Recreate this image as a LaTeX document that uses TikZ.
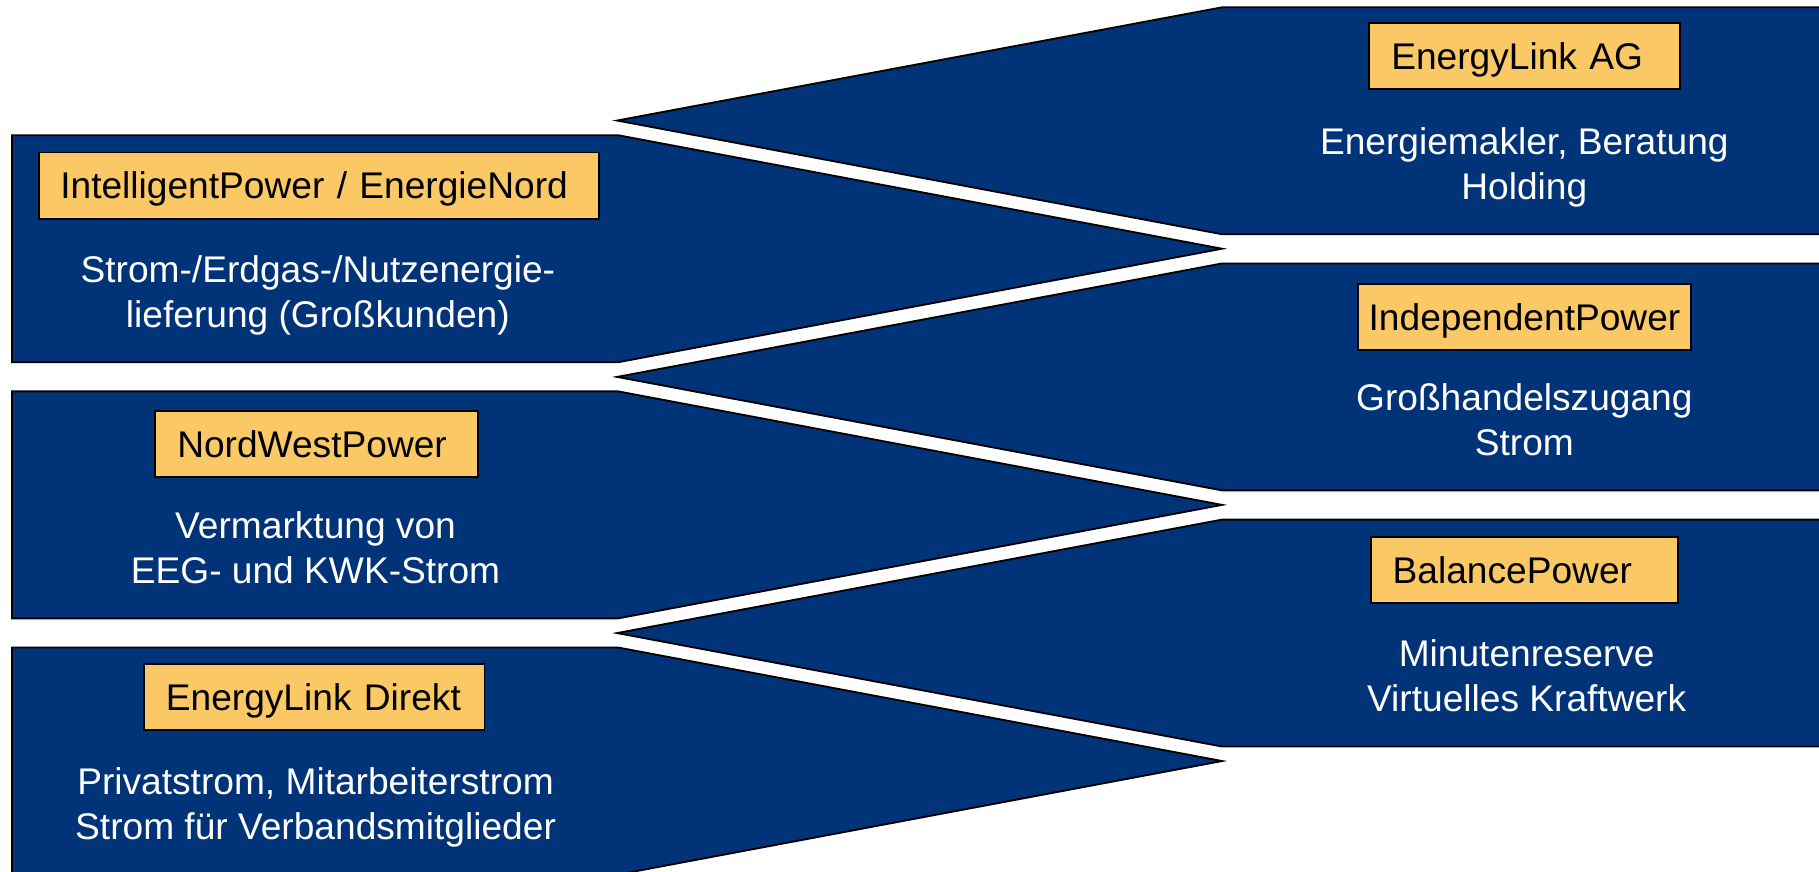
\documentclass[tikz,border=0pt]{standalone}
\usepackage{fontspec}
\setmainfont{Liberation Sans}
\definecolor{navy}{RGB}{0,51,119}
\definecolor{tagfill}{RGB}{250,200,100}
\tikzset{
  arm/.style={draw=black, fill=navy, line width=0.8pt, line join=miter},
  tag/.style={draw=black, fill=tagfill, line width=0.8pt, anchor=north west,
    font=\fontsize{16}{19}\selectfont, align=left, minimum height=28.5pt,
    text height=15pt, text depth=3.5pt, inner ysep=0pt},
  body/.style={text=white, font=\fontsize{16}{19.25}\selectfont, align=center, anchor=base, inner sep=0pt}
}
\begin{document}
\begin{tikzpicture}[x=0.5pt, y=-0.5pt]
\useasboundingbox (0,0) rectangle (1568,751);
% right arms
\draw[arm] (1600,6.3) -- (1053.4,6.3) -- (532,103.9) -- (1053.4,201.9) -- (1600,201.9);
\draw[arm] (1600,227.1) -- (1053.4,227.1) -- (532,324.9) -- (1053.4,422.7) -- (1600,422.7);
\draw[arm] (1600,447.9) -- (1053.4,447.9) -- (532,545.7) -- (1053.4,643.5) -- (1600,643.5);
% left arms
\draw[arm] (10.4,116.6) -- (533,116.6) -- (1053.4,214.4) -- (533,312.2) -- (10.4,312.2) -- cycle;
\draw[arm] (10.4,337.4) -- (533,337.4) -- (1053.4,435.2) -- (533,533.0) -- (10.4,533.0) -- cycle;
\draw[arm] (10.4,558.2) -- (533,558.2) -- (1053.4,656.0) -- (533,753.8) -- (10.4,753.8) -- cycle;
% labels
\node[tag, text width=223pt, inner xsep=9.25pt] (t1) at (32.7,130.7) {IntelligentPower / EnergieNord};
\node[tag, text width=120pt, inner xsep=9.5pt] (t2) at (133,353.4) {NordWestPower};
\node[tag, text width=127.8pt, inner xsep=9.5pt] (t3) at (123.2,571.8) {EnergyLink Direkt};
\node[tag, text width=114.7pt, inner xsep=9.75pt] (t4) at (1179,18.7) {EnergyLink AG};
\node[tag, text width=134.5pt, inner xsep=4.5pt] (t5) at (1170,243.7) {IndependentPower};
\node[tag, text width=113.3pt, inner xsep=9.5pt] (t6) at (1180.7,462) {BalancePower};
% body texts (anchor base = last line baseline)
\node[body] (b1) at (274,282.1) {Strom-/Erdgas-/Nutzenergie-\\lieferung (Großkunden)};
\node[body] (b2) at (272,502.9) {Vermarktung von\\EEG- und KWK-Strom};
\node[body] (b3) at (272,723.7) {Privatstrom, Mitarbeiterstrom\\Strom für Verbandsmitglieder};
\node[body] (b4) at (1314,171.8) {Energiemakler, Beratung\\Holding};
\node[body] (b5) at (1314,392.6) {Großhandelszugang\\Strom};
\node[body] (b6) at (1316,613.4) {Minutenreserve\\Virtuelles Kraftwerk};
\end{tikzpicture}
\end{document}
